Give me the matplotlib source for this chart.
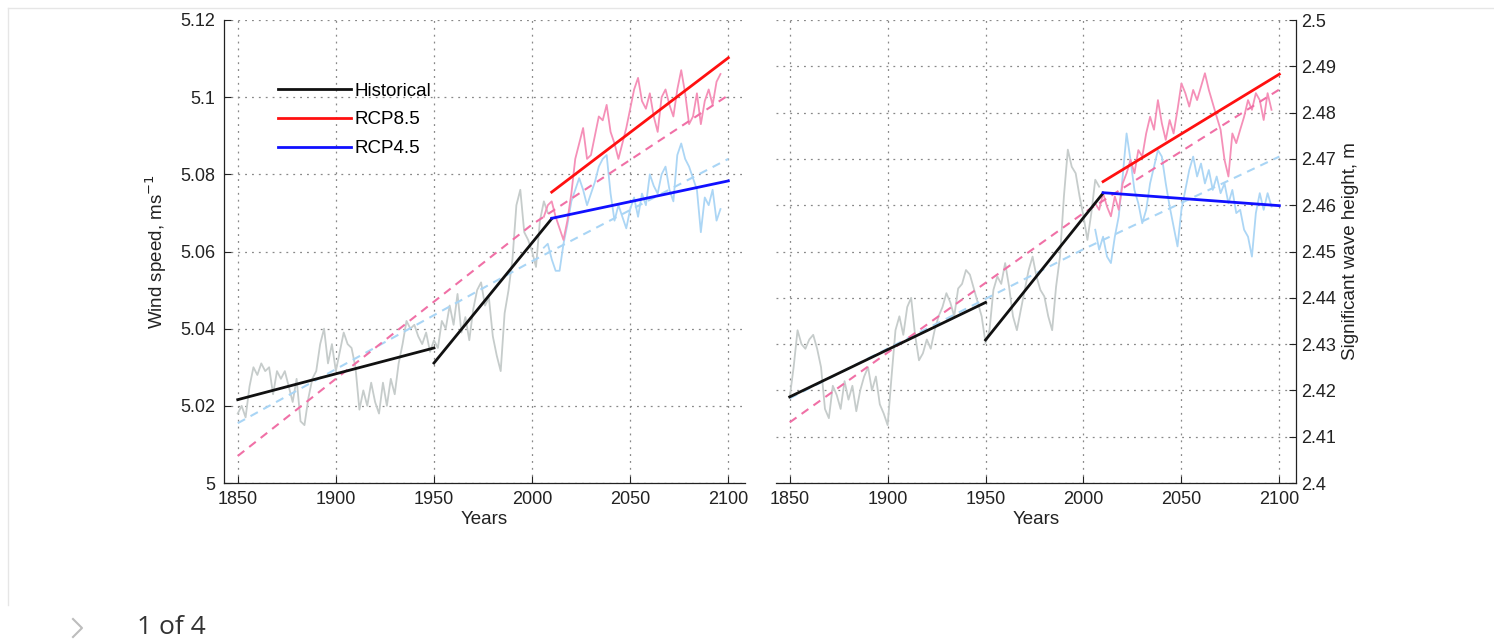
import matplotlib.pyplot as plt
import numpy as np
from matplotlib.lines import Line2D

plt.rcParams['font.family'] = ['Liberation Sans', 'DejaVu Sans']

# years of the smoothed series (two-year steps)
hist_years = np.arange(1850, 2010, 2)
proj_years = np.arange(2006, 2098, 2)

# --- wind speed, ms-1 ---
wind_hist = [
    5.018, 5.020, 5.017, 5.025, 5.030, 5.028, 5.031, 5.029, 5.030, 5.023,
    5.029, 5.027, 5.029, 5.025, 5.021, 5.027, 5.016, 5.015, 5.022, 5.027,
    5.029, 5.036, 5.040, 5.031, 5.036, 5.029, 5.034, 5.039, 5.036, 5.035,
    5.030, 5.019, 5.024, 5.020, 5.026, 5.021, 5.018, 5.026, 5.020, 5.027,
    5.023, 5.031, 5.036, 5.042, 5.040, 5.041, 5.038, 5.036, 5.039, 5.034,
    5.037, 5.035, 5.042, 5.040, 5.046, 5.041, 5.049, 5.039, 5.043, 5.037,
    5.045, 5.050, 5.052, 5.046, 5.048, 5.038, 5.033, 5.029, 5.044, 5.050,
    5.058, 5.072, 5.076, 5.065, 5.063, 5.060, 5.056, 5.068, 5.073, 5.070,
]
wind_rcp85 = [
    5.069, 5.072, 5.073, 5.069, 5.066, 5.063, 5.068, 5.075, 5.084, 5.088,
    5.092, 5.084, 5.085, 5.090, 5.095, 5.094, 5.098, 5.091, 5.088, 5.084,
    5.088, 5.092, 5.097, 5.102, 5.105, 5.099, 5.097, 5.101, 5.095, 5.091,
    5.100, 5.102, 5.098, 5.095, 5.102, 5.107, 5.101, 5.093, 5.095, 5.101,
    5.093, 5.099, 5.102, 5.098, 5.104, 5.106,
]
wind_rcp45 = [
    5.061, 5.062, 5.058, 5.055, 5.055, 5.062, 5.067, 5.073, 5.076, 5.079,
    5.076, 5.072, 5.075, 5.078, 5.082, 5.084, 5.085, 5.075, 5.068, 5.072,
    5.069, 5.066, 5.071, 5.074, 5.069, 5.075, 5.072, 5.080, 5.077, 5.075,
    5.080, 5.082, 5.076, 5.073, 5.085, 5.088, 5.084, 5.082, 5.079, 5.076,
    5.065, 5.074, 5.072, 5.076, 5.068, 5.071,
]

# --- significant wave height, m ---
wave_hist = [
    2.4185, 2.4250, 2.4330, 2.4300, 2.4290, 2.4310, 2.4320, 2.4290, 2.4250, 2.4160,
    2.4140, 2.4210, 2.4190, 2.4160, 2.4220, 2.4180, 2.4210, 2.4155, 2.4200, 2.4230,
    2.4250, 2.4200, 2.4230, 2.4170, 2.4150, 2.4125, 2.4230, 2.4330, 2.4360, 2.4320,
    2.4380, 2.4400, 2.4320, 2.4265, 2.4280, 2.4310, 2.4290, 2.4330, 2.4360, 2.4380,
    2.4410, 2.4390, 2.4360, 2.4420, 2.4430, 2.4460, 2.4450, 2.4420, 2.4390, 2.4360,
    2.4302, 2.4330, 2.4417, 2.4446, 2.4430, 2.4475, 2.4424, 2.4360, 2.4330, 2.4374,
    2.4417, 2.4460, 2.4489, 2.4446, 2.4417, 2.4403, 2.4360, 2.4330, 2.4424, 2.4489,
    2.4619, 2.4720, 2.4683, 2.4669, 2.4619, 2.4576, 2.4525, 2.4583, 2.4655, 2.4640,
]
wave_rcp85 = [
    2.4604, 2.4590, 2.4626, 2.4597, 2.4576, 2.4619, 2.4590, 2.4647, 2.4669, 2.4698,
    2.4669, 2.4719, 2.4705, 2.4755, 2.4791, 2.4763, 2.4827, 2.4777, 2.4741, 2.4784,
    2.4755, 2.4806, 2.4863, 2.4842, 2.4813, 2.4849, 2.4827, 2.4856, 2.4885, 2.4849,
    2.4820, 2.4791, 2.4763, 2.4698, 2.4662, 2.4755, 2.4734, 2.4763, 2.4791, 2.4827,
    2.4806, 2.4842, 2.4827, 2.4784, 2.4842, 2.4806,
]
wave_rcp45 = [
    2.4547, 2.4504, 2.4532, 2.4489, 2.4475, 2.4532, 2.4576, 2.4662, 2.4755, 2.4698,
    2.4633, 2.4604, 2.4561, 2.4590, 2.4647, 2.4683, 2.4719, 2.4705, 2.4647, 2.4597,
    2.4554, 2.4511, 2.4590, 2.4633, 2.4676, 2.4705, 2.4662, 2.4690, 2.4647, 2.4676,
    2.4633, 2.4662, 2.4626, 2.4647, 2.4604, 2.4633, 2.4583, 2.4590, 2.4547, 2.4532,
    2.4489, 2.4583, 2.4626, 2.4590, 2.4626, 2.4597,
]

# linear trends (start, end values) over each period
fit_years_early = [1850, 1950]
fit_years_late = [1950, 2010]
fit_years_proj = [2010, 2100]
wind_fit_early = [5.0216, 5.0350]
wind_fit_late = [5.0311, 5.0685]
wind_fit_rcp85 = [5.0754, 5.1102]
wind_fit_rcp45 = [5.0686, 5.0783]
wave_fit_early = [2.4186, 2.4390]
wave_fit_late = [2.4309, 2.4626]
wave_fit_rcp85 = [2.4651, 2.4883]
wave_fit_rcp45 = [2.4627, 2.4599]

# long-term trend curves for the full 1850-2100 series
long_years = [1850, 2000, 2100]
wind_long_rcp85 = [5.0070, 5.0670, 5.1005]
wind_long_rcp45 = [5.0155, 5.0575, 5.0840]
wave_long_rcp85 = [2.4131, 2.4583, 2.4850]
wave_long_rcp45 = [2.4183, 2.4505, 2.4705]

year_ticks = [1850, 1900, 1950, 2000, 2050, 2100]
wind_ticks = [5.0, 5.02, 5.04, 5.06, 5.08, 5.10, 5.12]
wind_tick_labels = ['5', '5.02', '5.04', '5.06', '5.08', '5.1', '5.12']
wave_ticks = [2.40, 2.41, 2.42, 2.43, 2.44, 2.45, 2.46, 2.47, 2.48, 2.49, 2.50]
wave_tick_labels = ['2.4', '2.41', '2.42', '2.43', '2.44', '2.45', '2.46',
                    '2.47', '2.48', '2.49', '2.5']

GRAY = '#c6cccb'
PINK = '#f590b8'
LBLUE = '#acd6f5'


def draw_panel(ax, hist, rcp85, rcp45, fe, fl, f85, f45, l85, l45):
    ax.plot(hist_years, hist, color=GRAY, lw=1.3, zorder=2)
    ax.plot(proj_years, rcp45, color=LBLUE, lw=1.3, zorder=2)
    ax.plot(proj_years, rcp85, color=PINK, lw=1.3, zorder=2)
    ax.plot(long_years, l45, color='#a9d5f5', lw=1.5, ls=(0, (4, 3)), zorder=3)
    ax.plot(long_years, l85, color='#f070a6', lw=1.5, ls=(0, (4, 3)), zorder=3)
    ax.plot(fit_years_early, fe, color='#111111', lw=2.0, zorder=4, label='Historical')
    ax.plot(fit_years_late, fl, color='#111111', lw=2.0, zorder=4)
    ax.plot(fit_years_proj, f85, color='#ff1010', lw=2.0, zorder=4, label='RCP8.5')
    ax.plot(fit_years_proj, f45, color='#1010ff', lw=2.0, zorder=4, label='RCP4.5')

    ax.set_xlim(1843, 2108.5)
    ax.set_xticks(year_ticks)
    ax.set_xticklabels([str(y) for y in year_ticks])
    ax.grid(True, linestyle=(0, (1.5, 4)), color='#888888', lw=0.9)
    ax.set_axisbelow(True)
    ax.tick_params(direction='in', length=5, width=0.8, labelsize=13,
                   pad=6, colors='#222222')
    ax.set_xlabel('Years', fontsize=13.5, labelpad=2, color='#222222')
    ax.spines['top'].set_visible(False)


fig = plt.figure(figsize=(14.94, 6.42), dpi=100)
W, H = 1494, 642
ax1 = fig.add_axes([224 / W, 1 - 483 / H, 521 / W, 463 / H])
ax2 = fig.add_axes([776 / W, 1 - 483 / H, 520 / W, 463 / H])

draw_panel(ax1, wind_hist, wind_rcp85, wind_rcp45, wind_fit_early, wind_fit_late,
           wind_fit_rcp85, wind_fit_rcp45, wind_long_rcp85, wind_long_rcp45)
ax1.set_ylim(5.0, 5.12)
ax1.set_yticks(wind_ticks)
ax1.set_yticklabels(wind_tick_labels)
ax1.spines['right'].set_visible(False)
ax1.set_ylabel('Wind speed, ms$^{-1}$', fontsize=13.5, labelpad=8, color='#222222')
ax1.legend(loc='upper left', bbox_to_anchor=(0.104, 0.865), frameon=False,
           fontsize=13.5, handlelength=3.9, handletextpad=0.15,
           labelspacing=0.62, borderpad=0, borderaxespad=0)

draw_panel(ax2, wave_hist, wave_rcp85, wave_rcp45, wave_fit_early, wave_fit_late,
           wave_fit_rcp85, wave_fit_rcp45, wave_long_rcp85, wave_long_rcp45)
ax2.set_ylim(2.4, 2.5)
ax2.set_yticks(wave_ticks)
ax2.set_yticklabels(wave_tick_labels)
ax2.spines['left'].set_visible(False)
ax2.yaxis.tick_right()
ax2.yaxis.set_label_position('right')
ax2.tick_params(axis='y', direction='in', length=5, pad=4)
ax2.set_ylabel('Significant wave height, m', fontsize=13.5, labelpad=4,
               rotation=90, color='#222222')

for ax in (ax1, ax2):
    for s in ax.spines.values():
        s.set_linewidth(0.9)
        s.set_color('#222222')

# page frame, pager arrow and caption
fig.add_artist(Line2D([8 / W, 1], [1 - 8 / H, 1 - 8 / H], color='#e6e6e6', lw=1))
fig.add_artist(Line2D([8 / W, 8 / W], [1 - 8 / H, 1 - 605 / H], color='#e6e6e6', lw=1))
fig.add_artist(Line2D([73 / W, 82 / W, 73 / W], [1 - 619 / H, 1 - 628 / H, 1 - 637 / H],
                      color='#bdbdbd', lw=1.5))
fig.text(137 / W, 1 - 628 / H, '1 of 4', fontsize=19, family=['Open Sans', 'DejaVu Sans'],
         color='#333333', va='center', ha='left')

fig.savefig('out.png', dpi=100)
